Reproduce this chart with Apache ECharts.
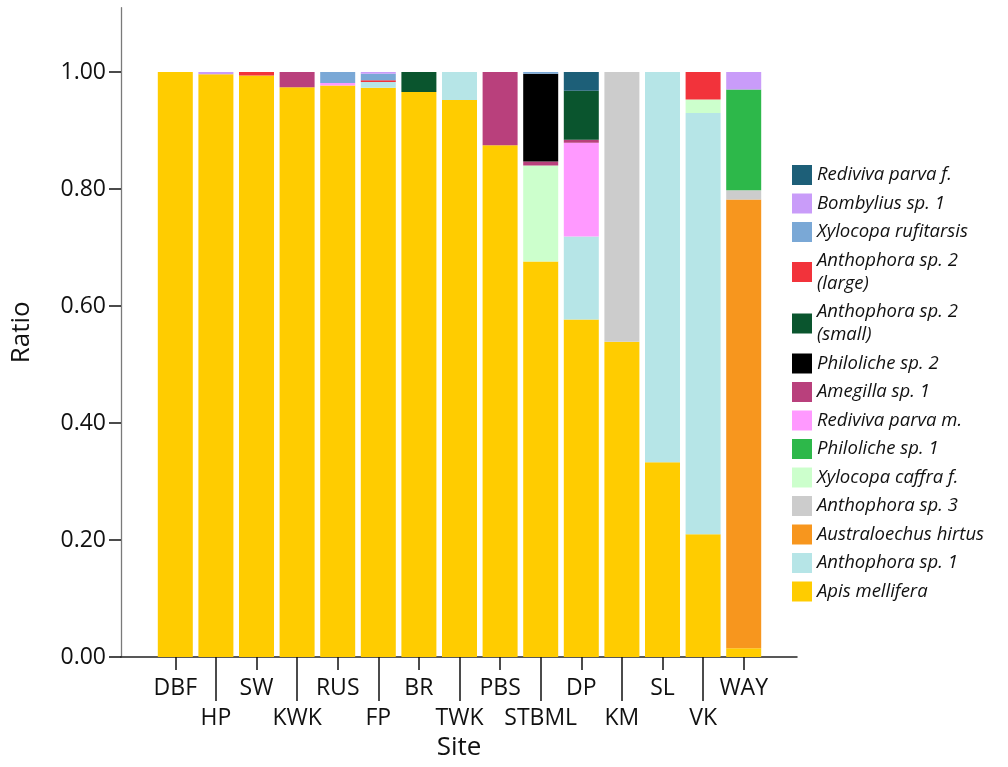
<!DOCTYPE html>
<html>
<head>
<meta charset="utf-8">
<script src="https://cdn.jsdelivr.net/npm/echarts@6/dist/echarts.min.js"></script>
<style>
  html, body { margin: 0; padding: 0; background: #fff; }
  #chart { width: 1008px; height: 767px; }
</style>
</head>
<body>
<div id="chart"></div>
<script>
// Sites along the x axis
const sites = ['DBF', 'HP', 'SW', 'KWK', 'RUS', 'FP', 'BR', 'TWK', 'PBS', 'STBML', 'DP', 'KM', 'SL', 'VK', 'WAY'];

// Visitor ratio per site, one array per taxon (stacked bottom to top)
const apisMellifera        = [1.000, 0.996, 0.994, 0.974, 0.977, 0.973, 0.966, 0.952, 0.875, 0.676, 0.577, 0.539, 0.333, 0.210, 0.015];
const anthophoraSp1        = [0, 0, 0, 0, 0, 0.010, 0, 0.048, 0, 0, 0.142, 0, 0.667, 0.720, 0];
const australoechusHirtus  = [0, 0, 0, 0, 0, 0, 0, 0, 0, 0, 0, 0, 0, 0, 0.767];
const anthophoraSp3        = [0, 0, 0, 0, 0, 0, 0, 0, 0, 0, 0, 0.461, 0, 0, 0.016];
const xylocopaCaffraF      = [0, 0, 0, 0, 0, 0, 0, 0, 0, 0.164, 0, 0, 0, 0.023, 0];
const philolicheSp1        = [0, 0, 0, 0, 0, 0, 0, 0, 0, 0, 0, 0, 0, 0, 0.172];
const redivivaParvaM       = [0, 0, 0, 0, 0.004, 0, 0, 0, 0, 0, 0.160, 0, 0, 0, 0];
const amegillaSp1          = [0, 0, 0, 0.026, 0, 0, 0, 0, 0.125, 0.007, 0.005, 0, 0, 0, 0];
const philolicheSp2        = [0, 0, 0, 0, 0, 0, 0, 0, 0, 0.150, 0, 0, 0, 0, 0];
const anthophoraSp2Small   = [0, 0, 0, 0, 0, 0, 0.034, 0, 0, 0, 0.084, 0, 0, 0, 0];
const anthophoraSp2Large   = [0, 0, 0.006, 0, 0, 0.003, 0, 0, 0, 0, 0, 0, 0, 0.047, 0];
const xylocopaRufitarsis   = [0, 0, 0, 0, 0.019, 0.011, 0, 0, 0, 0.003, 0, 0, 0, 0, 0];
const bombyliusSp1         = [0, 0.004, 0, 0, 0, 0.003, 0, 0, 0, 0, 0, 0, 0, 0, 0.030];
const redivivaParvaF       = [0, 0, 0, 0, 0, 0, 0, 0, 0, 0, 0.032, 0, 0, 0, 0];

// Y axis tick values
const ratioTicks = [0, 0.2, 0.4, 0.6, 0.8, 1.0];

// Stack order (bottom first): name, values, colour
const taxa = [
  ['Apis mellifera', apisMellifera, '#ffcc00'],
  ['Anthophora sp. 1', anthophoraSp1, '#b6e5e7'],
  ['Australoechus hirtus', australoechusHirtus, '#f7961e'],
  ['Anthophora sp. 3', anthophoraSp3, '#cccccc'],
  ['Xylocopa caffra f.', xylocopaCaffraF, '#ccffcc'],
  ['Philoliche sp. 1', philolicheSp1, '#2db84a'],
  ['Rediviva parva m.', redivivaParvaM, '#ff99ff'],
  ['Amegilla sp. 1', amegillaSp1, '#b9407c'],
  ['Philoliche sp. 2', philolicheSp2, '#000000'],
  ['Anthophora sp. 2 (small)', anthophoraSp2Small, '#0a552e'],
  ['Anthophora sp. 2 (large)', anthophoraSp2Large, '#f2333b'],
  ['Xylocopa rufitarsis', xylocopaRufitarsis, '#7aa8d6'],
  ['Bombylius sp. 1', bombyliusSp1, '#c99cf9'],
  ['Rediviva parva f.', redivivaParvaF, '#1d5f78']
];

const FONT = '"Open Sans", "Noto Sans", sans-serif';
const Y_MAX = 1.11;

const chart = echarts.init(document.getElementById('chart'), null, { renderer: 'canvas' });

const option = {
  backgroundColor: '#ffffff',
  animation: false,
  textStyle: { fontFamily: FONT, color: '#111' },
  grid: [
    // bars
    { left: 155, right: 244, top: 7.65, bottom: 110 },
    // axis frame
    { left: 121, right: 211, top: 7.65, bottom: 110 }
  ],
  xAxis: [
    {
      type: 'category', gridIndex: 0, data: sites, position: 'bottom', offset: 0,
      axisLine: { show: false },
      axisTick: {
        show: true, alignWithLabel: true, length: 13,
        interval: (i) => i % 2 === 0,
        lineStyle: { color: '#111', width: 1.5 }
      },
      axisLabel: {
        interval: (i) => i % 2 === 0, margin: 20,
        fontSize: 23, color: '#111', fontFamily: FONT
      },
      splitLine: { show: false }
    },
    {
      type: 'category', gridIndex: 0, data: sites, position: 'bottom', offset: 0,
      axisLine: { show: false },
      axisTick: {
        show: true, alignWithLabel: true, length: 44,
        interval: (i) => i % 2 === 1,
        lineStyle: { color: '#111', width: 1.5 }
      },
      axisLabel: {
        interval: (i) => i % 2 === 1, margin: 50,
        fontSize: 23, color: '#111', fontFamily: FONT
      },
      splitLine: { show: false }
    },
    {
      type: 'value', gridIndex: 1, min: 0, max: 1, position: 'bottom',
      axisLine: { show: true, lineStyle: { color: '#222', width: 1.5 } },
      axisTick: { show: false },
      axisLabel: { show: false },
      splitLine: { show: false },
      name: 'Site', nameLocation: 'middle', nameGap: 78,
      nameTextStyle: { fontSize: 26, color: '#111', fontFamily: FONT }
    }
  ],
  yAxis: [
    {
      type: 'value', gridIndex: 0, min: 0, max: Y_MAX, show: false,
      splitLine: { show: false }
    },
    {
      type: 'value', gridIndex: 1, min: 0, max: Y_MAX, position: 'left',
      axisLine: { show: true, lineStyle: { color: '#7a7a7a', width: 1.3 } },
      axisTick: {
        show: true, length: 12, customValues: ratioTicks,
        lineStyle: { color: '#111', width: 1.5 }
      },
      axisLabel: {
        customValues: ratioTicks, margin: 15,
        fontSize: 23, color: '#111', fontFamily: FONT,
        formatter: (v) => v.toFixed(2)
      },
      splitLine: { show: false },
      name: 'Ratio', nameLocation: 'middle', nameGap: 86, nameRotate: 90,
      nameTextStyle: { fontSize: 26, color: '#111', fontFamily: FONT }
    }
  ],
  legend: {
    orient: 'vertical', left: 792, top: 163.5, padding: 0,
    itemWidth: 20, itemHeight: 20, itemGap: 5.5,
    icon: 'rect',
    data: taxa.map(t => t[0]).reverse(),
    formatter: (name) => name.replace(' (', '\n('),
    textStyle: { fontSize: 18.5, lineHeight: 23, fontStyle: 'italic', color: '#111', fontFamily: FONT }
  },
  series: taxa.map(([name, values, color]) => ({
    name: name,
    type: 'bar',
    stack: 'ratio',
    xAxisIndex: 0,
    yAxisIndex: 0,
    barWidth: 35,
    data: values,
    itemStyle: { color: color },
    emphasis: { disabled: true }
  }))
};

chart.setOption(option);
</script>
</body>
</html>
